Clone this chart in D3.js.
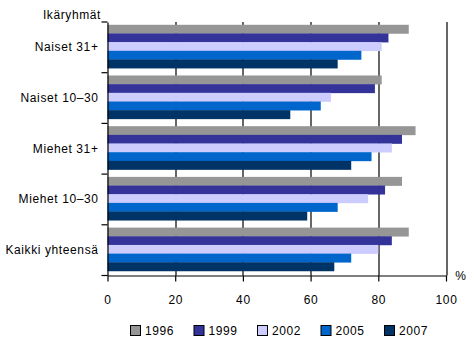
<!DOCTYPE html>
<html>
<head>
<meta charset="utf-8">
<script src="https://cdn.jsdelivr.net/npm/d3@7"></script>
<style>
  body { margin: 0; background: #fff; }
  text { font-family: 'Liberation Sans', Arial, sans-serif; font-size: 12px; fill: #000; letter-spacing: 0.6px; }
</style>
</head>
<body>
<svg id="chart" width="475" height="338"></svg>
<script>
'use strict';

// data
const categories = ['Naiset 31+', 'Naiset 10–30', 'Miehet 31+', 'Miehet 10–30', 'Kaikki yhteensä'];
const years = ['1996', '1999', '2002', '2005', '2007'];
const values1996 = [89, 81, 91, 87, 89];
const values1999 = [83, 79, 87, 82, 84];
const values2002 = [81, 66, 84, 77, 80];
const values2005 = [75, 63, 78, 68, 72];
const values2007 = [68, 54, 72, 59, 67];
const xTicks = [0, 20, 40, 60, 80, 100];

const seriesValues = [values1996, values1999, values2002, values2005, values2007];
const colors = ['#969696', '#333399', '#CCCCFF', '#0066CC', '#003366'];

const svg = d3.select('#chart');
const margin = { top: 22, left: 107.5, right: 29, bottom: 62.5 };
const width = 475 - margin.left - margin.right;
const height = 338 - margin.top - margin.bottom;

const g = svg.append('g')
  .attr('transform', 'translate(' + margin.left + ',' + margin.top + ')');

const xScale = d3.scaleLinear().domain([0, 100]).range([0, width]);
const yScale = d3.scaleBand().domain(categories).range([0, height]);
const yInner = d3.scaleBand().domain(years)
  .range([yScale.bandwidth() * 0.055, yScale.bandwidth() * 0.91]);
const color = d3.scaleOrdinal().domain(years).range(colors);

// vertical grid lines (behind the bars)
g.selectAll('.grid')
  .data(xTicks.slice(1))
  .enter()
  .append('line')
  .attr('class', 'grid')
  .attr('x1', (d) => Math.round(xScale(d)) + 0.5)
  .attr('x2', (d) => Math.round(xScale(d)) + 0.5)
  .attr('y1', 0)
  .attr('y2', height)
  .attr('stroke', '#000')
  .attr('stroke-width', 1.2);

// bars
const rows = categories.map(function(c, i) {
  return {
    cat: c,
    values: years.map(function(y, j) {
      return { year: y, value: seriesValues[j][i] };
    }),
  };
});

const group = g.selectAll('.cat')
  .data(rows)
  .enter()
  .append('g')
  .attr('class', 'cat')
  .attr('transform', (d) => 'translate(0,' + yScale(d.cat) + ')');

group.selectAll('rect')
  .data((d) => d.values)
  .enter()
  .append('rect')
  .attr('x', 0)
  .attr('y', (d) => yInner(d.year))
  .attr('width', (d) => xScale(d.value))
  .attr('height', yInner.bandwidth() + 0.3)
  .attr('fill', (d) => color(d.year));

// x axis
const xAxis = d3.axisBottom(xScale)
  .tickValues(xTicks)
  .tickSize(6)
  .tickPadding(14)
  .tickSizeOuter(0);

g.append('g')
  .attr('class', 'x axis')
  .attr('transform', 'translate(0,' + height + ')')
  .call(xAxis)
  .call((a) => {
    a.selectAll('line').attr('stroke', '#000').attr('stroke-width', 1.2);
    a.select('.domain').attr('stroke', '#000').attr('stroke-width', 1.2);
    a.selectAll('text').style('font-size', '12px');
  });

// y axis with ticks between categories
const yAxis = d3.axisLeft(yScale).tickSize(0).tickPadding(9);

g.append('g')
  .attr('class', 'y axis')
  .call(yAxis)
  .call((a) => {
    a.select('.domain').attr('stroke', '#000').attr('stroke-width', 1.2);
    a.selectAll('text').style('font-size', '12px');
  });

const boundaries = categories.map((c) => yScale(c)).concat([height]);
g.selectAll('.ytick')
  .data(boundaries)
  .enter()
  .append('line')
  .attr('class', 'ytick')
  .attr('x1', -6)
  .attr('x2', 0)
  .attr('y1', (d) => d)
  .attr('y2', (d) => d)
  .attr('stroke', '#000')
  .attr('stroke-width', 1.2);

// axis titles
svg.append('text')
  .attr('x', 101)
  .attr('y', 19)
  .attr('text-anchor', 'end')
  .text('Ikäryhmät');

svg.append('text')
  .attr('x', 461)
  .attr('y', 280)
  .attr('text-anchor', 'middle')
  .text('%');

// legend
const legend = svg.append('g')
  .attr('class', 'gLegend')
  .attr('transform', 'translate(130,325)');

const item = legend.selectAll('.legend')
  .data(years)
  .enter()
  .append('g')
  .attr('class', 'legend')
  .attr('transform', (d, i) => 'translate(' + i * 63.5 + ',0)');

item.append('rect')
  .attr('x', 0.5)
  .attr('y', 0.5)
  .attr('width', 10)
  .attr('height', 10)
  .attr('fill', (d) => color(d))
  .attr('stroke', '#000')
  .attr('stroke-width', 1);

item.append('text')
  .attr('x', 15)
  .attr('y', 10)
  .text((d) => d);
</script>
</body>
</html>
